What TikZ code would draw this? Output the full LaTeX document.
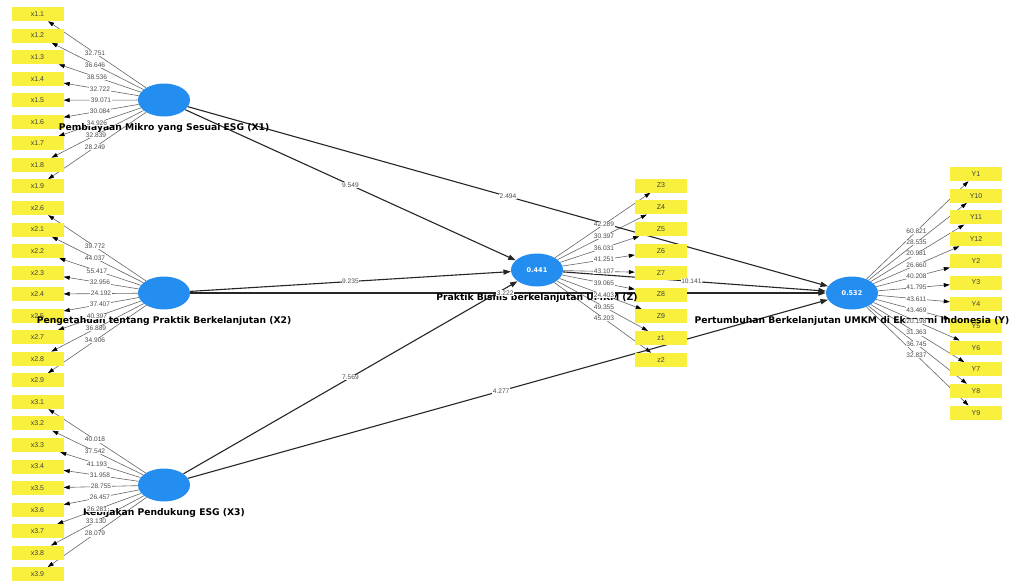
\documentclass[tikz,border=0pt]{standalone}
\usepackage{fontspec}
\setmainfont{DejaVu Sans}
\newfontfamily\libfont{Liberation Sans}
\usetikzlibrary{arrows.meta,shapes.geometric,calc}
\definecolor{indyellow}{RGB}{248,240,60}
\definecolor{lvblue}{RGB}{36,142,240}
\pgfdeclarelayer{bg}
\pgfdeclarelayer{paper}
\pgfsetlayers{paper,bg,main}
\tikzset{
  lvnode/.style={ellipse, fill=lvblue, minimum width=52pt, minimum height=33pt, inner sep=0pt,
    text=white, font=\bfseries\fontsize{6.5}{6.5}\selectfont},
  indbox/.style={rectangle, fill=indyellow, minimum width=52pt, minimum height=14pt, inner sep=0pt,
    text=black!75, font=\libfont\fontsize{7}{7}\selectfont},
  lvlabel/.style={inner sep=0pt, font=\bfseries\fontsize{9.2}{9.2}\selectfont},
  loadline/.style={draw=black!60, line width=0.6pt, -{Triangle[length=6pt,width=4pt,color=black]}},
  pathline/.style={draw=black!85, line width=1.1pt, -{Triangle[length=7.5pt,width=5.2pt]}},
  numlbl/.style={fill=white, inner sep=0.5pt, text=black!70, font=\libfont\fontsize{6.6}{6.6}\selectfont}
}
\begin{document}
\begin{tikzpicture}[x=1pt,y=-1pt]
\begin{pgfonlayer}{paper}
\fill[white] (0,0) rectangle (1013,582);
\end{pgfonlayer}
\useasboundingbox (0,0) rectangle (1013,582);

% latent variables
\node[lvnode] (X1) at (164,100) {};
\node[lvnode] (X2) at (164,293) {};
\node[lvnode] (X3) at (164,485) {};
\node[lvnode] (Z) at (537,270) {0.441};
\node[lvnode] (Y) at (852,293) {0.532};

% left indicators
\foreach \t [count=\k from 0] in {x1.1,x1.2,x1.3,x1.4,x1.5,x1.6,x1.7,x1.8,x1.9,
  x2.6,x2.1,x2.2,x2.3,x2.4,x2.5,x2.7,x2.8,x2.9,
  x3.1,x3.2,x3.3,x3.4,x3.5,x3.6,x3.7,x3.8,x3.9}
  \node[indbox] (L\k) at (37.5,{14+21.55*\k}) {\t};

% Z indicators
\foreach \t [count=\k from 0] in {Z3,Z4,Z5,Z6,Z7,Z8,Z9,z1,z2}
  \node[indbox] (ZB\k) at (661,{185.5+21.8*\k}) {\t};

% Y indicators
\foreach \t [count=\k from 0] in {Y1,Y10,Y11,Y12,Y2,Y3,Y4,Y5,Y6,Y7,Y8,Y9}
  \node[indbox] (YB\k) at (976,{174+21.7*\k}) {\t};

% connectors
\begin{pgfonlayer}{bg}
  \foreach \k in {0,...,8} \draw[loadline] (X1) -- (L\k);
  \foreach \k in {9,...,17} \draw[loadline] (X2) -- (L\k);
  \foreach \k in {18,...,26} \draw[loadline] (X3) -- (L\k);
  \foreach \k in {0,...,8} \draw[loadline] (Z) -- (ZB\k);
  \foreach \k in {0,...,11} \draw[loadline] (Y) -- (YB\k);
  \draw[pathline] (X1) -- (Z);
  \draw[pathline] (X1) -- (Y);
  \draw[pathline] (X2) -- (Z);
  \draw[pathline] (X2) -- (Y);
  \draw[pathline] (X3) -- (Z);
  \draw[pathline] (X3) -- (Y);
  \draw[pathline] (Z) -- (Y);
\end{pgfonlayer}

% construct labels
\node[lvlabel] (X1l) at (164,128) {Pembiayaan Mikro yang Sesuai ESG (X1)};
\node[lvlabel] (X2l) at (164,321) {Pengetahuan tentang Praktik Berkelanjutan (X2)};
\node[lvlabel] (X3l) at (164,513) {Kebijakan Pendukung ESG (X3)};
\node[lvlabel] (Zl) at (537,298) {Praktik Bisnis berkelanjutan UMKM (Z)};
\node[lvlabel] (Yl) at (852,321) {Pertumbuhan Berkelanjutan UMKM di Ekonomi Indonesia (Y)};

% path coefficients
\node[numlbl] at ($(X1)!0.5!(Z)$) {9.549};
\node[numlbl] at ($(X1)!0.5!(Y)$) {2.494};
\node[numlbl] at ($(X2)!0.5!(Z)$) {9.235};
\node[numlbl] at ($(X2)!0.496!(Y)$) {3.222};
\node[numlbl] at ($(X3)!0.5!(Z)$) {7.569};
\node[numlbl] at ($(X3)!0.49!(Y)$) {4.277};
\node[numlbl] at ($(Z)!0.49!(Y)$) {10.141};

% outer loadings, left
\foreach \k/\t/\v in {0/0.545/32.751,1/0.545/36.646,2/0.53/38.536,3/0.506/32.722,4/0.498/39.071,
  5/0.506/30.084,6/0.53/34.926,7/0.537/32.839,8/0.545/28.249}
  \node[numlbl] at ($(X1)!\t!(L\k)$) {\v};
\foreach \k/\t/\v in {9/0.545/39.772,10/0.545/44.037,11/0.53/55.417,12/0.506/32.956,13/0.498/24.192,
  14/0.506/37.407,15/0.53/40.397,16/0.537/36.889,17/0.545/34.906}
  \node[numlbl] at ($(X2)!\t!(L\k)$) {\v};
\foreach \k/\t/\v in {18/0.545/40.018,19/0.545/37.542,20/0.53/41.193,21/0.506/31.958,22/0.498/28.755,
  23/0.506/26.457,24/0.53/26.281,25/0.537/33.130,26/0.545/28.079}
  \node[numlbl] at ($(X3)!\t!(L\k)$) {\v};

% outer loadings, Z
\foreach \k/\v in {0/42.289,1/30.397,2/36.031,3/41.251,4/43.107,5/39.065,6/24.403,7/49.355,8/45.203}
  \node[numlbl] at ($(Z)!0.54!(ZB\k)$) {\v};

% outer loadings, Y
\foreach \k/\v in {0/60.821,1/28.535,2/20.981,3/26.660,4/40.208,5/41.795,6/43.611,7/43.469,
  8/20.198,9/31.363,10/36.745,11/32.837}
  \node[numlbl] at ($(Y)!0.52!(YB\k)$) {\v};
\end{tikzpicture}
\end{document}
